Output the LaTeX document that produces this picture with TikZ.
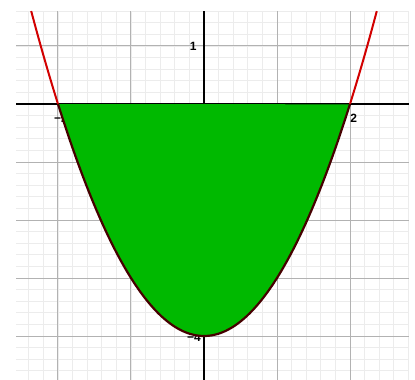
\documentclass[tikz,border=0pt]{standalone}
\usepackage{fontspec}
\setmainfont{Liberation Sans}
\definecolor{gridminor}{RGB}{236,236,236}
\definecolor{gridmajor}{RGB}{178,178,178}
\definecolor{curvered}{RGB}{210,0,0}
\definecolor{curvedark}{RGB}{70,0,0}
\definecolor{fillgreen}{RGB}{0,185,0}
\tikzset{
  minorgrid/.style={draw=gridminor, line width=0.8pt},
  majorgrid/.style={draw=gridmajor, line width=1pt},
  axisline/.style={draw=black, line width=2pt},
  ticklabel/.style={font=\fontsize{12}{14}\selectfont\bfseries, inner sep=0pt},
  outercurve/.style={draw=curvered, line width=2pt},
  innercurve/.style={draw=curvedark, line width=2.2pt},
  region/.style={fill=fillgreen, draw=none}
}
\begin{document}
\begin{tikzpicture}[x=73pt,y=58pt]
\useasboundingbox (-204pt,-276pt) rectangle (211pt,104pt);
\fill[white] (-204pt,-276pt) rectangle (211pt,104pt);
% grids
\draw[minorgrid, xstep=0.2, ystep=0.2] (-2.575,-4.76) grid (2.808,1.603);
\draw[majorgrid, xstep=1, ystep=1] (-2.575,-4.76) grid (2.808,1.603);
% axes
\coordinate (xl) at (-2.575,0);
\coordinate (xr) at (2.808,0);
\coordinate (yt) at (0,1.603);
\coordinate (yb) at (0,-4.76);
\draw[axisline] (xl) -- (xr);
\draw[axisline] (yt) -- (yb);
% labels
\node[ticklabel, anchor=east] (l1) at (-0.1,1) {1};
\node[ticklabel] (lm2) at (-1.96,-0.24) {−2};
\node[ticklabel] (l2) at (2.05,-0.24) {2};
\node[ticklabel, anchor=east] (lm4) at (-0.04,-4.03) {−4};
% region
\fill[region] plot[domain=-2:2, samples=100] (\x,{\x*\x-4}) -- cycle;
% curve
\draw[outercurve] plot[domain=-2.367:-2, samples=20] (\x,{\x*\x-4});
\draw[outercurve] plot[domain=2:2.367, samples=20] (\x,{\x*\x-4});
\draw[innercurve] plot[domain=-2:2, samples=100] (\x,{\x*\x-4});
\end{tikzpicture}
\end{document}
